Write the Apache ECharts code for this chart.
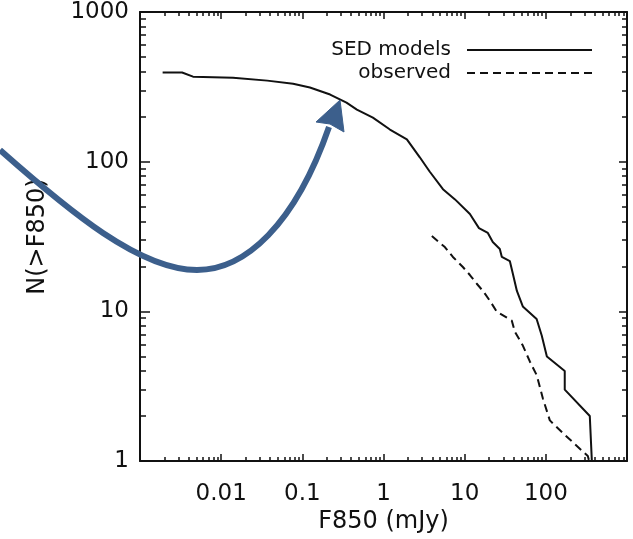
<!DOCTYPE html>
<html>
<head>
<meta charset="utf-8">
<script src="https://cdn.jsdelivr.net/npm/echarts@6/dist/echarts.min.js"></script>
<style>
html, body { margin: 0; padding: 0; background: #fff; }
#chart { width: 633px; height: 539px; }
</style>
</head>
<body>
<div id="chart"></div>
<script>
// ---- data ----
const sedFlux  = [0.0019, 0.0033, 0.0045, 0.014, 0.037, 0.077, 0.124, 0.22, 0.35, 0.47, 0.74, 1.2, 1.94, 2.8, 3.7, 5.4, 7.6, 11.6, 15, 19.3, 22.2, 27.1, 28.7, 36, 39.3, 44, 52, 77, 89, 103, 171, 171, 348, 369];
const sedCount = [394, 394, 370, 364, 348, 332, 313, 281, 248, 223, 197, 164, 141, 107, 86, 65.5, 56, 44.7, 36, 33.4, 29.1, 26.1, 23.1, 21.7, 17.8, 13.7, 10.8, 8.9, 6.9, 5, 4, 3, 2, 1];
const obsFlux  = [3.94, 5.7, 7.16, 9.5, 11.6, 14.1, 16.8, 20.4, 24.9, 33.1, 38.1, 41.5, 52.1, 63.5, 77.5, 91.8, 112, 162, 329, 342];
const obsCount = [31.9, 26.9, 23.1, 19.8, 17.5, 15.3, 13.7, 11.8, 9.95, 9.08, 8.67, 7.33, 5.91, 4.63, 3.73, 2.63, 1.87, 1.54, 1.08, 1];
const xTickValues = [0.01, 0.1, 1, 10, 100];
const xTickLabels = ['0.01', '0.1', '1', '10', '100'];
const yTickValues = [1, 10, 100, 1000];
const yTickLabels = ['1', '10', '100', '1000'];
const seriesNames = ['SED models', 'observed'];
const xTitle = 'F850 (mJy)';
const yTitle = 'N(>F850)';

const FONT = 'DejaVu Sans';
const INK = '#111';

function pairs(xs, ys) { return xs.map((x, i) => [x, ys[i]]); }
function labelFor(values, labels) {
  return function (v) {
    for (let i = 0; i < values.length; i++) {
      if (Math.abs(Math.log10(v) - Math.log10(values[i])) < 1e-6) return labels[i];
    }
    return '';
  };
}

function xAxisDef(pos, withLabels) {
  return {
    type: 'log', logBase: 10, min: 0.001, max: 1000, splitNumber: 6,
    position: pos,
    axisLine: { show: true, lineStyle: { color: INK, width: 2 } },
    axisTick: { show: true, inside: true, length: 7, lineStyle: { color: INK, width: 1.5 } },
    minorTick: { show: true, splitNumber: 9, length: 4, lineStyle: { color: INK, width: 1.5 } },
    splitLine: { show: false }, minorSplitLine: { show: false },
    axisLabel: withLabels ? {
      show: true, margin: 21, color: INK, fontFamily: FONT, fontSize: 23,
      formatter: labelFor(xTickValues, xTickLabels)
    } : { show: false },
    name: withLabels ? xTitle : '',
    nameLocation: 'middle', nameGap: 40,
    nameTextStyle: { color: INK, fontFamily: FONT, fontSize: 24 }
  };
}
function yAxisDef(pos, withLabels) {
  return {
    type: 'log', logBase: 10, min: 1, max: 1000, splitNumber: 3,
    position: pos,
    axisLine: { show: true, lineStyle: { color: INK, width: 2 } },
    axisTick: { show: true, inside: true, length: withLabels ? 10 : 8, lineStyle: { color: INK, width: 1.5 } },
    minorTick: { show: true, splitNumber: 9, length: withLabels ? 6 : 5, lineStyle: { color: INK, width: 1.5 } },
    splitLine: { show: false }, minorSplitLine: { show: false },
    axisLabel: withLabels ? {
      show: true, margin: 11, color: INK, fontFamily: FONT, fontSize: 23,
      formatter: labelFor(yTickValues, yTickLabels)
    } : { show: false },
    name: withLabels ? yTitle : '',
    nameLocation: 'middle', nameGap: 90,
    nameTextStyle: { color: INK, fontFamily: FONT, fontSize: 24 }
  };
}

const chart = echarts.init(document.getElementById('chart'), null, { renderer: 'canvas' });
const ARROW = '#3c5f8c';
chart.setOption({
  animation: false,
  backgroundColor: '#fff',
  grid: { left: 140, top: 12, width: 487, height: 451 },
  xAxis: [xAxisDef('bottom', true), xAxisDef('top', false)],
  yAxis: [yAxisDef('left', true), yAxisDef('right', false)],
  legend: {
    data: seriesNames,
    orient: 'vertical',
    align: 'right',
    right: 40, top: 40,
    padding: 0,
    itemGap: 3,
    itemWidth: 125, itemHeight: 20,
    itemStyle: { color: 'rgba(0,0,0,0)', borderWidth: 0, opacity: 0 },
    textStyle: { color: INK, fontFamily: FONT, fontSize: 20, lineHeight: 20, padding: [0, 11, 0, 0] }
  },
  series: [
    {
      name: seriesNames[0], type: 'line', xAxisIndex: 0, yAxisIndex: 0,
      symbol: 'none', showSymbol: false, smooth: false,
      lineStyle: { color: INK, width: 2, type: 'solid' },
      itemStyle: { color: INK },
      data: pairs(sedFlux, sedCount)
    },
    {
      name: seriesNames[1], type: 'line', xAxisIndex: 0, yAxisIndex: 0,
      symbol: 'none', showSymbol: false, smooth: false,
      lineStyle: { color: INK, width: 2, type: [8, 5] },
      itemStyle: { color: INK },
      data: pairs(obsFlux, obsCount)
    }
  ],
  graphic: [
    { type: 'bezierCurve', z: 100,
      shape: { x1: 0, y1: 150, cpx1: 70, cpy1: 212, cpx2: 140, cpy2: 270, x2: 197, y2: 270 },
      style: { stroke: ARROW, lineWidth: 6, fill: null } },
    { type: 'bezierCurve', z: 100,
      shape: { x1: 197, y1: 270, cpx1: 245, cpy1: 270, cpx2: 295, cpy2: 225, x2: 329, y2: 127 },
      style: { stroke: ARROW, lineWidth: 6, fill: null } },
    { type: 'polygon', z: 101,
      shape: { points: [[340, 100], [316, 122], [330, 124], [344, 132]] },
      style: { fill: ARROW, stroke: ARROW, lineWidth: 1 } }
  ]
});
</script>
</body>
</html>
